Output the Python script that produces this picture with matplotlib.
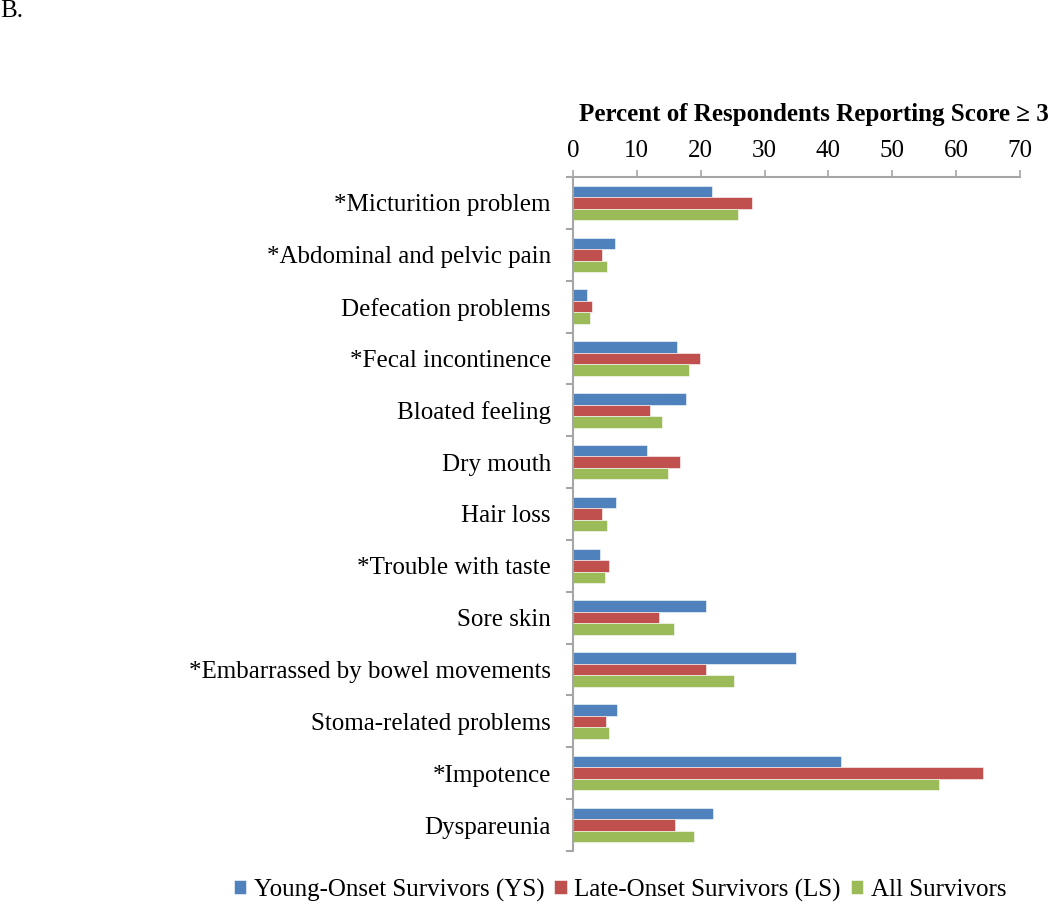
import matplotlib
matplotlib.use("Agg")
import matplotlib.pyplot as plt
import numpy as np

categories = ["*Micturition problem", "*Abdominal and pelvic pain", "Defecation problems",
              "*Fecal incontinence", "Bloated feeling", "Dry mouth", "Hair loss",
              "*Trouble with taste", "Sore skin", "*Embarrassed by bowel movements",
              "Stoma-related problems", "*Impotence", "Dyspareunia"]
young = [21.8, 6.5, 2.2, 16.3, 17.7, 11.6, 6.7, 4.2, 20.9, 34.9, 6.9, 42.0, 22.0]
late = [28.0, 4.6, 2.9, 19.9, 12.1, 16.8, 4.5, 5.6, 13.5, 20.8, 5.1, 64.2, 16.0]
allsurv = [25.9, 5.3, 2.6, 18.2, 14.0, 14.9, 5.4, 5.0, 15.8, 25.2, 5.7, 57.3, 18.9]
series_names = ["Young-Onset Survivors (YS)", "Late-Onset Survivors (LS)", "All Survivors"]
colors = ["#4F81BD", "#C0504D", "#9BBB59"]
xticks = [0, 10, 20, 30, 40, 50, 60, 70]

plt.rcParams['font.family'] = ['Liberation Serif', 'DejaVu Serif']
FS = 18

fig = plt.figure(figsize=(10.5, 9.06), dpi=100)
ax = fig.add_axes([573/1050, 1-851/906, (1020-573)/1050, (851-177)/906])

n = len(categories)
y = np.arange(n)
h = 0.222
for i, (vals, c, name) in enumerate(zip([young, late, allsurv], colors, series_names)):
    ax.barh(y + (i - 1) * h, vals, height=h, color=c, label=name,
            edgecolor='white', linewidth=0.4)

ax.set_ylim(n - 0.5, -0.5)
ax.set_xlim(0, 70)
ax.set_yticks(y)
ax.set_yticklabels(categories, fontsize=FS)
ax.set_yticks(np.arange(-0.5, n, 1), minor=True)
ax.tick_params(axis='y', which='major', length=0, pad=16)
ax.tick_params(axis='y', which='minor', length=5, width=1.5, color='#A6A6A6')

ax.xaxis.tick_top()
ax.set_xticks(xticks)
ax.set_xticklabels([str(v) for v in xticks], fontsize=FS)
ax.tick_params(axis='x', length=5, width=1.2, color='#A6A6A6', pad=6)

fig.text(814/1050, 1-115/906, "Percent of Respondents Reporting Score ≥ 3", fontsize=FS,
         fontweight='bold', ha='center', va='center')

for s in ['right', 'bottom']:
    ax.spines[s].set_visible(False)
for s in ['top', 'left']:
    ax.spines[s].set_color('#A6A6A6')
    ax.spines[s].set_linewidth(1.5)

fig.legend(loc='center', bbox_to_anchor=(620/1050, 1-890/906), ncol=3, frameon=False,
           fontsize=FS, handlelength=0.5, handleheight=0.5, handletextpad=0.3,
           columnspacing=0.4)

fig.text(0.0, 1-17/906, "B.", fontsize=FS, ha='left', va='baseline')

fig.savefig("out.png", dpi=100)
